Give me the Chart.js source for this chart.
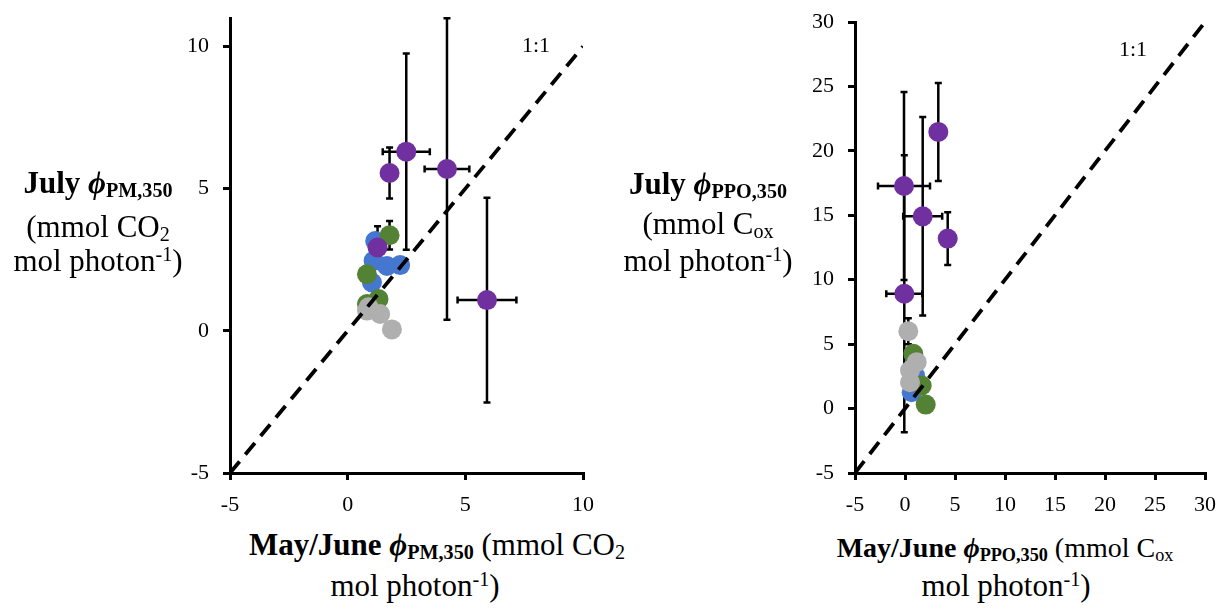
<!DOCTYPE html>
<html>
<head>
<meta charset="utf-8">
<script src="https://cdn.jsdelivr.net/npm/chart.js@4"></script>
<style>
  body { margin:0; background:#fff; width:1225px; height:611px; overflow:hidden; position:relative; font-family:"Liberation Serif","Times New Roman",serif; }
  canvas { position:absolute; top:0; }
  .ln { position:absolute; width:400px; text-align:center; font-size:31px; line-height:31px; white-space:nowrap; color:#000; }
  .b { font-weight:bold; }
  .phi { font-weight:bold; font-style:italic; }
  .sub { font-size:0.65em; position:relative; top:0.22em; }
  .sup { font-size:0.65em; position:relative; top:-0.5em; }
</style>
</head>
<body>
<canvas id="left" width="450" height="520" style="left:160px"></canvas>
<canvas id="right" width="435" height="520" style="left:790px"></canvas>

<!-- axis titles -->
<div class="ln" style="left:-102px;top:167px"><span class="b">July </span><span class="phi">ϕ</span><span class="sub b">PM,350</span></div>
<div class="ln" style="left:-102px;top:211px">(mmol CO<span class="sub">2</span></div>
<div class="ln" style="left:-102px;top:245px">mol photon<span class="sup">-1</span>)</div>

<div class="ln" style="left:508px;top:168px"><span class="b">July </span><span class="phi">ϕ</span><span class="sub b">PPO,350</span></div>
<div class="ln" style="left:508px;top:208px">(mmol C<span class="sub">ox</span></div>
<div class="ln" style="left:508px;top:245px">mol photon<span class="sup">-1</span>)</div>

<div class="ln" style="left:237px;top:529px"><span class="b">May/June </span><span class="phi">ϕ</span><span class="sub b">PM,350</span> (mmol CO<span class="sub">2</span></div>
<div class="ln" style="left:215px;top:570px">mol photon<span class="sup">-1</span>)</div>

<div class="ln" style="left:805px;top:532px;font-size:28px"><span class="b">May/June </span><span class="phi">ϕ</span><span class="sub b">PPO,350</span> (mmol C<span class="sub">ox</span></div>
<div class="ln" style="left:806px;top:570px">mol photon<span class="sup">-1</span>)</div>

<script>
// ---- left panel: phi PM,350 ----
const pmBlueX   = [1.17, 1.10, 1.67, 2.23, 1.03];
const pmBlueY   = [3.16, 2.46, 2.28, 2.31, 1.70];
const pmGreenX  = [1.78, 0.82, 1.31, 0.82];
const pmGreenY  = [3.36, 1.99, 1.12, 0.94];
const pmGreenEx = [0, 0, 0, 0];
const pmGreenEy = [0.5, 0, 0, 0];
const pmGrayX   = [0.89, 0.82, 1.38, 1.88];
const pmGrayY   = [0.83, 0.71, 0.59, 0.05];
const pmPurpleX  = [2.49, 1.78, 4.22, 5.92, 1.27];
const pmPurpleY  = [6.30, 5.55, 5.69, 1.08, 2.93];
const pmPurpleEx = [1.0, 0, 0.95, 1.25, 0];
const pmPurpleEy = [3.45, 0.9, 5.3, 3.6, 0.75];
const pmTicksX = [-5, 0, 5, 10];
const pmTicksY = [-5, 0, 5, 10];

// ---- right panel: phi PPO,350 ----
const ppoBlueX   = [1.0, 0.67];
const ppoBlueY   = [2.56, 1.27];
const ppoGreenX  = [0.83, 1.67, 2.07];
const ppoGreenY  = [4.25, 1.79, 0.31];
const ppoGrayX   = [0.33, 1.17, 0.5, 0.5];
const ppoGrayY   = [6.0, 3.6, 2.95, 2.04];
const ppoGrayEx  = [0, 0, 0, 0];
const ppoGrayEy  = [1.0, 0, 0, 0];
const ppoPurpleX  = [3.33, -0.1, 1.77, 4.27, -0.07];
const ppoPurpleY  = [21.47, 17.27, 14.92, 13.19, 8.91];
const ppoPurpleEx = [0, 2.6, 1.95, 0, 1.8];
const ppoPurpleEy = [3.8, 7.3, 7.7, 2.05, 10.75];
const ppoTicksX = [-5, 0, 5, 10, 15, 20, 25, 30];
const ppoTicksY = [-5, 0, 5, 10, 15, 20, 25, 30];

const BLUE = '#4677d0', GREEN = '#548235', GRAY = '#b0afaf', PURPLE = '#7030a0';

const pts = (xs, ys) => xs.map((x, i) => ({x: x, y: ys[i]}));

function pointSet(xs, ys, color, ex, ey) {
  return {
    type: 'scatter', data: pts(xs, ys), backgroundColor: color, borderWidth: 0,
    pointRadius: 10, pointHoverRadius: 10, errX: ex, errY: ey
  };
}

const errorBars = {
  id: 'errorBars',
  beforeDatasetsDraw(chart) {
    const {ctx, scales: {x, y}} = chart;
    const cap = 3.5;
    ctx.save();
    ctx.strokeStyle = '#000';
    ctx.lineWidth = 2.5;
    chart.data.datasets.forEach(ds => {
      if (!ds.errX) return;
      ds.data.forEach((p, i) => {
        const px = x.getPixelForValue(p.x), py = y.getPixelForValue(p.y);
        const ex = ds.errX[i], ey = ds.errY[i];
        ctx.beginPath();
        if (ey) {
          const t = y.getPixelForValue(p.y + ey), b = y.getPixelForValue(p.y - ey);
          ctx.moveTo(px, t); ctx.lineTo(px, b);
          ctx.moveTo(px - cap, t); ctx.lineTo(px + cap, t);
          ctx.moveTo(px - cap, b); ctx.lineTo(px + cap, b);
        }
        if (ex) {
          const l = x.getPixelForValue(p.x - ex), r = x.getPixelForValue(p.x + ex);
          ctx.moveTo(l, py); ctx.lineTo(r, py);
          ctx.moveTo(l, py - cap); ctx.lineTo(l, py + cap);
          ctx.moveTo(r, py - cap); ctx.lineTo(r, py + cap);
        }
        ctx.stroke();
      });
    });
    ctx.restore();
  },
  afterDatasetsDraw(chart, args, opts) {
    const {ctx, scales: {x, y}} = chart;
    ctx.save();
    ctx.fillStyle = '#000';
    ctx.font = '22px "Liberation Serif"';
    ctx.textAlign = 'center';
    ctx.textBaseline = 'middle';
    ctx.fillText('1:1', x.getPixelForValue(opts.at[0]), y.getPixelForValue(opts.at[1]));
    ctx.restore();
  }
};

function makeChart(id, sets, lo, hi, yMax, ticksX, ticksY, pad, yW, labelAt) {
  const axis = (ticks, min, max, isX) => ({
    type: 'linear', min: min, max: max,
    afterBuildTicks: s => { s.ticks = ticks.map(v => ({value: v})); },
    afterFit: s => {
      if (isX) { s.height = 47; s.paddingLeft = 0; s.paddingRight = 0; }
      else { s.width = yW; s.paddingTop = 0; s.paddingBottom = 0; }
    },
    border: {display: true, color: '#000', width: 3},
    grid: {display: true, drawOnChartArea: false, drawTicks: true, tickLength: 7, color: '#000', lineWidth: 3},
    ticks: {color: '#000', font: {family: '"Liberation Serif", serif', size: 22}, padding: isX ? 12 : 14, maxRotation: 0}
  });
  return new Chart(document.getElementById(id), {
    type: 'scatter',
    data: {
      datasets: [
        {type: 'line', data: [{x: lo, y: lo}, {x: hi, y: hi}], borderColor: '#000', borderWidth: 3.8,
         borderDash: [15, 9], pointRadius: 0, fill: false}
      ].concat(sets)
    },
    options: {
      responsive: false, animation: false, events: [],
      layout: {padding: pad},
      plugins: {legend: {display: false}, tooltip: {enabled: false}, errorBars: {at: labelAt}},
      scales: {x: axis(ticksX, lo, hi, true), y: axis(ticksY, lo, yMax, false)}
    },
    plugins: [errorBars]
  });
}

// dataset 0 is drawn on top, so purple goes first, blue last
makeChart('left', [
  pointSet(pmPurpleX, pmPurpleY, PURPLE, pmPurpleEx, pmPurpleEy),
  pointSet(pmGrayX, pmGrayY, GRAY),
  pointSet(pmGreenX, pmGreenY, GREEN, pmGreenEx, pmGreenEy),
  pointSet(pmBlueX, pmBlueY, BLUE)
], -5, 10, 11, pmTicksX, pmTicksY, {top: 18, right: 27, left: 0, bottom: 0}, 70, [8.0, 10.0]);

makeChart('right', [
  pointSet(ppoPurpleX, ppoPurpleY, PURPLE, ppoPurpleEx, ppoPurpleEy),
  pointSet(ppoGrayX, ppoGrayY, GRAY, ppoGrayEx, ppoGrayEy),
  pointSet(ppoGreenX, ppoGreenY, GREEN),
  pointSet(ppoBlueX, ppoBlueY, BLUE)
], -5, 30, 30, ppoTicksX, ppoTicksY, {top: 22, right: 20, left: 0, bottom: 0}, 65, [22.8, 27.8]);
</script>
</body>
</html>
